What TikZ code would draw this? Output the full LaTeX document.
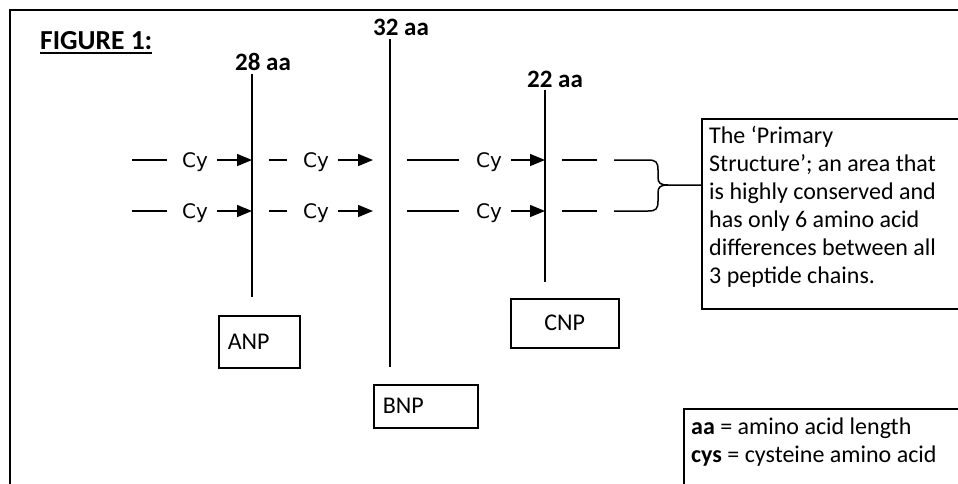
\documentclass[tikz,border=0pt]{standalone}
\usepackage{fontspec}
\setmainfont{Carlito}
\newfontfamily\cyfont{DejaVu Sans}
\usetikzlibrary{arrows.meta,calc}
\tikzset{
  ln/.style={line width=1.5pt},
  arr/.style={line width=1.5pt,-{Triangle[length=15pt,width=12pt]}},
  lab/.style={font=\bfseries\fontsize{25}{29}\selectfont,inner sep=0pt},
  titlelab/.style={font=\bfseries\fontsize{27.5}{32}\selectfont,inner sep=0pt},
  cylab/.style={font=\cyfont\fontsize{20}{24}\selectfont,inner sep=0pt},
  namebox/.style={draw,line width=1.5pt,font=\fontsize{24}{28}\selectfont,inner xsep=9pt,inner ysep=0pt},
  bigtext/.style={font=\fontsize{24}{28}\selectfont,inner sep=0pt,align=left},
}
\begin{document}
\begin{tikzpicture}[x=1pt,y=-1pt]
\useasboundingbox (0,0) rectangle (958,483);
\clip (0,0) rectangle (958,483);
% outer frame
\coordinate (fbl) at (10,500);
\coordinate (ftl) at (10,10);
\coordinate (ftr) at (980,10);
\draw[ln] (fbl) -- (ftl) -- (ftr);
% title
\node[titlelab,anchor=base west] (fig) at (40,49) {FIGURE 1:};
\draw[line width=2pt] ($(fig.base west)+(0,3.5)$) -- ($(fig.base east)+(0,3.5)$);
% chain labels
\node[lab,anchor=base] (l28) at (263,70) {28 aa};
\node[lab,anchor=base] (l32) at (401,35) {32 aa};
\node[lab,anchor=base] (l22) at (555,87) {22 aa};
% chain lines
\coordinate (A1) at (252,74);  \coordinate (A2) at (252,297);
\coordinate (B1) at (390,39);  \coordinate (B2) at (390,367);
\coordinate (C1) at (545,90);  \coordinate (C2) at (545,282);
\draw[ln] (A1) -- (A2);
\draw[ln] (B1) -- (B2);
\draw[ln] (C1) -- (C2);
% name boxes
\node[namebox,anchor=north west,minimum width=81pt,minimum height=52pt,text width=63pt,align=left] (anp) at (218,315) {ANP};
\node[namebox,anchor=north west,minimum width=104pt,minimum height=43pt,text width=86pt,align=left] (bnp) at (373,384) {BNP};
\node[namebox,anchor=north west,minimum width=108pt,minimum height=49pt,align=center] (cnp) at (510,298) {CNP};
% rows
\foreach \r/\y in {1/160,2/211}{
  \coordinate (d1a\r) at (132,\y); \coordinate (d1b\r) at (167,\y);
  \node[cylab,anchor=base] (cya\r) at (195,\y+7) {Cy};
  \coordinate (a1s\r) at (217,\y); \coordinate (a1e\r) at (252,\y);
  \coordinate (d2a\r) at (269,\y); \coordinate (d2b\r) at (287,\y);
  \node[cylab,anchor=base] (cyb\r) at (316,\y+7) {Cy};
  \coordinate (a2s\r) at (338,\y); \coordinate (a2e\r) at (373,\y);
  \coordinate (d3a\r) at (407,\y); \coordinate (d3b\r) at (459,\y);
  \node[cylab,anchor=base] (cyc\r) at (489,\y+7) {Cy};
  \coordinate (a3s\r) at (511,\y); \coordinate (a3e\r) at (545,\y);
  \coordinate (d4a\r) at (562,\y); \coordinate (d4b\r) at (597,\y);
  \coordinate (d5a\r) at (614,\y); \coordinate (d5b\r) at (648,\y);
  \draw[ln] (d1a\r) -- (d1b\r);
  \draw[arr] (a1s\r) -- (a1e\r);
  \draw[ln] (d2a\r) -- (d2b\r);
  \draw[arr] (a2s\r) -- (a2e\r);
  \draw[ln] (d3a\r) -- (d3b\r);
  \draw[arr] (a3s\r) -- (a3e\r);
  \draw[ln] (d4a\r) -- (d4b\r);
}
% brace
\coordinate (tip) at (701,185);
\coordinate (bm) at (668,185);
\draw[ln] (d5a1) -- (d5b1) .. controls (656,160) and (658,162) .. (658,170) -- (658,177) .. controls (658,183) and (660,185) .. (bm) -- (tip);
\draw[ln] (d5a2) -- (d5b2) .. controls (656,211) and (658,209) .. (658,201) -- (658,193) .. controls (658,187) and (660,185) .. (bm);
% description box
\node[draw,line width=1.5pt,anchor=north west,minimum width=320pt,minimum height=190pt,inner sep=0pt] (tbox) at (701,118) {};
\node[bigtext,anchor=north west] (ttext) at (709,126) {The ‘Primary\\Structure’; an area that\\is highly conserved and\\has only 6 amino acid\\differences between all\\3 peptide chains.};
% legend box
\node[draw,line width=1.5pt,anchor=north west,minimum width=320pt,minimum height=120pt,inner sep=0pt] (lbox) at (683,408) {};
\node[bigtext,anchor=north west] (ltext) at (691,418) {\textbf{aa} = amino acid length\\\textbf{cys} = cysteine amino acid};
\end{tikzpicture}
\end{document}
